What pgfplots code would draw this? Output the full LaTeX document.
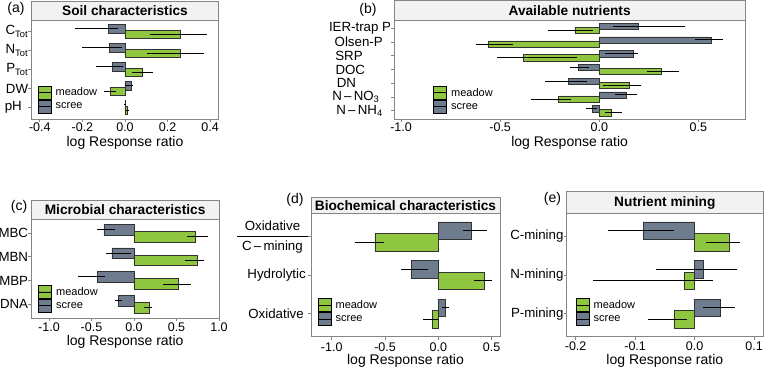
\documentclass[border=0pt]{standalone}
\usepackage{fontspec}
\setmainfont{Liberation Sans}
\usepackage{pgfplots}
\usepackage{pgfplotstable}
\pgfplotsset{compat=1.18}

\definecolor{meadow}{HTML}{8EC63F}
\definecolor{scree}{HTML}{6E7C8D}
\definecolor{framegray}{HTML}{858585}
\definecolor{stripfill}{HTML}{F2F2F2}

\newcommand{\tickfont}{\fontsize{12.5}{14}\selectfont}
\newcommand{\catfont}{\fontsize{13.3}{15}\selectfont}
\newcommand{\labfont}{\fontsize{14}{16}\selectfont}

% columns: y position, log response ratio, CI upper minus value, value minus CI lower
% (a) soil characteristics
\pgfplotstableread[row sep=\\]{
y v ep em \\
5.15 -0.078 0.047 0.157 \\
4.15 -0.074 0.058 0.126 \\
3.15 -0.060 0.050 0.078 \\
2.15 0.028 0.008 0.026 \\
1.15 0.002 0.003 0.008 \\
}\soilS
\pgfplotstableread[row sep=\\]{
y v ep em \\
4.85 0.259 0.128 0.141 \\
3.85 0.259 0.110 0.155 \\
2.85 0.083 0.050 0.048 \\
1.85 -0.070 0.030 0.027 \\
0.85 0.010 0.009 0.006 \\
}\soilM
% (b) available nutrients
\pgfplotstableread[row sep=\\]{
y v ep em \\
7.15 0.197 0.233 0.127 \\
6.15 0.563 0.059 0.080 \\
5.15 0.172 0.025 0.142 \\
4.15 -0.106 0.056 0.042 \\
3.15 -0.156 0.092 0.118 \\
2.15 0.138 0.052 0.058 \\
1.15 -0.034 0.021 0.033 \\
}\nutS
\pgfplotstableread[row sep=\\]{
y v ep em \\
6.85 -0.123 0.093 0.134 \\
5.85 -0.560 0.126 0.064 \\
4.85 -0.383 0.269 0.135 \\
3.85 0.314 0.090 0.075 \\
2.85 0.151 0.059 0.131 \\
1.85 -0.207 0.064 0.138 \\
0.85 0.062 0.051 0.033 \\
}\nutM
% (c) microbial characteristics
\pgfplotstableread[row sep=\\]{
y v ep em \\
4.15 -0.353 0.133 0.082 \\
3.15 -0.259 0.219 0.074 \\
2.15 -0.435 0.090 0.224 \\
1.15 -0.188 0.047 0.039 \\
}\micS
\pgfplotstableread[row sep=\\]{
y v ep em \\
3.85 0.722 0.148 0.095 \\
2.85 0.745 0.079 0.141 \\
1.85 0.525 0.142 0.184 \\
0.85 0.184 0.032 0.066 \\
}\micM
% (d) biochemical characteristics
\pgfplotstableread[row sep=\\]{
y v ep em \\
3.15 0.3125 0.141 0.079 \\
2.15 -0.256 0.156 0.094 \\
1.15 0.069 0.031 0.039 \\
}\bioS
\pgfplotstableread[row sep=\\]{
y v ep em \\
2.85 -0.594 0.084 0.186 \\
1.85 0.431 0.069 0.094 \\
0.85 -0.053 0.053 0.087 \\
}\bioM
% (e) nutrient mining
\pgfplotstableread[row sep=\\]{
y v ep em \\
3.15 -0.0856 0.0506 0.0594 \\
2.15 0.014 0.057 0.079 \\
1.15 0.0433 0.0242 0.0293 \\
}\minS
\pgfplotstableread[row sep=\\]{
y v ep em \\
2.85 0.059 0.018 0.039 \\
1.85 -0.017 0.048 0.153 \\
0.85 -0.035 0.022 0.044 \\
}\minM

\pgfplotsset{
  rrpanel/.style={
    scale only axis, anchor=south west, clip=false,
    axis line style={framegray, line width=0.9pt},
    tick style={framegray, line width=0.8pt},
    tick align=outside, major tick length=3pt, tick pos=left,
    minor tick num=0,
    /pgf/number format/fixed, /pgf/number format/fixed zerofill,
    /pgf/number format/precision=1, /pgf/number format/assume math mode=true,
    xticklabel style={font=\tickfont, anchor=base, inner ysep=0pt, yshift=-9.2pt},
    yticklabel style={font=\catfont, inner xsep=0pt},
    xlabel={log Response ratio},
    xlabel style={font=\labfont, inner ysep=0pt, at={(axis description cs:0.5,0)},
      anchor=base, yshift=-27.5pt},
    legend cell align=left,
    legend style={draw=none, fill=none, inner sep=0pt, outer sep=0pt, row sep=0pt,
      font=\fontsize{11}{12}\selectfont, anchor=north west,
      at={(axis description cs:0,1)}, nodes={inner sep=0pt},
      /tikz/every odd column/.append style={column sep=4pt}},
  },
  strip/.style 2 args={
    after end axis/.append code={
      \draw[framegray, line width=0.9pt, fill=stripfill]
        (rel axis cs:0,1) rectangle ([yshift=#2]rel axis cs:1,1);
      \node[font=\fontsize{13.7}{16}\selectfont\bfseries, inner sep=0pt]
        at ([yshift=#2/2]rel axis cs:0.5,1) {#1};
    }
  },
  meadowbar/.style={xbar, bar width=0.45, bar shift=0pt, fill=meadow,
    draw=black!80, line width=0.5pt,
    legend image code/.code={
      \draw[fill=meadow, draw=black, line width=0.9pt] (0pt,-6.5pt) rectangle (13pt,6.5pt);
      \draw[black, line width=0.9pt] (0pt,0pt) -- (13pt,0pt);}},
  screebar/.style={xbar, bar width=0.45, bar shift=0pt, fill=scree,
    draw=black!80, line width=0.5pt,
    legend image code/.code={
      \draw[fill=scree, draw=black, line width=0.9pt] (0pt,-6.5pt) rectangle (13pt,6.5pt);
      \draw[black, line width=0.9pt] (0pt,0pt) -- (13pt,0pt);}},
  errbar/.style={forget plot, draw=none, mark=none,
    error bars/.cd, x dir=both, x explicit, error mark=none,
    error bar style={draw=black, line width=1pt}},
}

\newcommand{\barpair}[2]{%
  \addplot[meadowbar] table[x=v, y=y] {#1};
  \addplot[screebar] table[x=v, y=y] {#2};
  \addplot[errbar] table[x=v, y=y, x error plus=ep, x error minus=em] {#1};
  \addplot[errbar] table[x=v, y=y, x error plus=ep, x error minus=em] {#2};
  \legend{meadow, scree}}

\begin{document}
\begin{tikzpicture}
\useasboundingbox (0pt,0pt) rectangle (764pt,367pt);

% (a)
\begin{axis}[rrpanel, at={(31.3pt,248pt)}, width=187.4pt, height=99pt,
  xmin=-0.44, xmax=0.44, ymin=0.4, ymax=5.6,
  xtick={-0.4,-0.2,0,0.2,0.4}, ytick={1,2,3,4,5},
  yticklabels={pH\hspace*{6.3pt}, DW, P\textsubscript{Tot}, N\textsubscript{Tot}, C\textsubscript{Tot}},
  strip={Soil characteristics}{19pt},
  legend style={xshift=6.4pt, yshift=-65.7pt}]
\barpair{\soilM}{\soilS}
\end{axis}

% (b)
\begin{axis}[rrpanel, at={(394.3pt,248pt)}, width=350.7pt, height=99pt,
  xmin=-1.034, xmax=0.735, ymin=0.4, ymax=7.6,
  xtick={-1,-0.5,0,0.5}, ytick={1,...,7},
  yticklabels={N\,–\,NH\textsubscript{4}\hspace*{8.4pt}, N\,–\,NO\textsubscript{3}\hspace*{11.7pt},
    DN\hspace*{35pt}, DOC\hspace*{26pt}, SRP\hspace*{28.4pt}, Olsen-P\hspace*{8.4pt}, IER-trap P},
  strip={Available nutrients}{19.5pt},
  legend style={xshift=39pt, yshift=-66pt}]
\barpair{\nutM}{\nutS}
\end{axis}

% (c)
\begin{axis}[rrpanel, at={(31.3pt,48.7pt)}, width=187.7pt, height=99.3pt,
  xmin=-1.208, xmax=1.0, ymin=0.4, ymax=4.6,
  xtick={-1,-0.5,0,0.5,1}, ytick={1,...,4},
  yticklabels={DNA, MBP, MBN, MBC},
  strip={Microbial characteristics}{19pt},
  xticklabel style={yshift=-1.3pt},
  legend style={xshift=7pt, yshift=-66pt}]
\barpair{\micM}{\micS}
\end{axis}

% (d)
\begin{axis}[rrpanel, at={(311pt,30.3pt)}, width=189pt, height=123.4pt,
  xmin=-1.194, xmax=0.578, ymin=0.4, ymax=3.6,
  xtick={-1,-0.5,0,0.5}, ytick={1,2,3},
  yticklabels={Oxidative\hspace*{4pt}, Hydrolytic\hspace*{2pt},
    {{\fontsize{13.3}{20}\selectfont\setlength{\arrayrulewidth}{0.8pt}%
      \begin{tabular}{@{\hspace{5pt}}c@{\hspace{5pt}}}Oxidative\\\hline C\,–\,mining\end{tabular}}}},
  strip={Biochemical characteristics}{16pt},
  xticklabel style={yshift=-2.3pt}, xlabel style={yshift=-0.8pt},
  legend style={xshift=6.7pt, yshift=-85pt}]
\barpair{\bioM}{\bioS}
\end{axis}

% (e)
\begin{axis}[rrpanel, at={(566.7pt,30.3pt)}, width=196.3pt, height=123.4pt,
  xmin=-0.215, xmax=0.115, ymin=0.4, ymax=3.6,
  xtick={-0.2,-0.1,0,0.1}, ytick={1,2,3},
  yticklabels={P-mining, N-mining, C-mining},
  strip={Nutrient mining}{21.5pt},
  xticklabel style={yshift=-1.3pt}, xlabel style={yshift=-0.8pt},
  legend style={xshift=9pt, yshift=-85pt}]
\barpair{\minM}{\minS}
\end{axis}

% panel letters
\node[font=\labfont] at (16pt,358pt) {(a)};
\node[font=\labfont] at (368pt,357pt) {(b)};
\node[font=\labfont] at (19pt,160pt) {(c)};
\node[font=\labfont] at (295pt,167pt) {(d)};
\node[font=\labfont] at (552.5pt,168pt) {(e)};
\end{tikzpicture}
\end{document}
